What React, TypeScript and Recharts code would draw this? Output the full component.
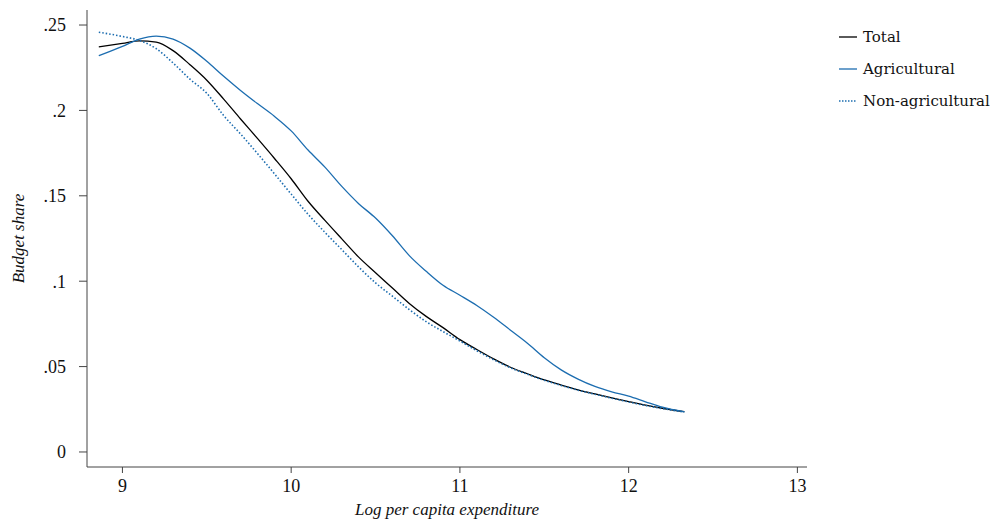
import React from 'react';
import { LineChart, Line, XAxis, YAxis } from 'recharts';

// log per capita expenditure grid
const logExp = [
  8.86, 9.0, 9.1, 9.2, 9.3, 9.4, 9.5, 9.6, 9.7, 9.8, 9.9, 10.0, 10.1, 10.2, 10.3, 10.4, 10.5, 10.6,
  10.7, 10.8, 10.9, 11.0, 11.1, 11.2, 11.3, 11.4, 11.5, 11.6, 11.7, 11.8, 11.9, 12.0, 12.1, 12.2, 12.33,
];

const total = [
  0.2372, 0.2392, 0.2407, 0.24, 0.235, 0.2268, 0.2177, 0.2066, 0.195, 0.1836, 0.172, 0.16, 0.1468,
  0.1356, 0.1248, 0.1141, 0.105, 0.096, 0.087, 0.0794, 0.0728, 0.0658, 0.06, 0.0545, 0.0496, 0.0458,
  0.0422, 0.0392, 0.0364, 0.034, 0.0317, 0.0295, 0.0274, 0.0256, 0.0236,
];

const agricultural = [
  0.232, 0.2375, 0.2417, 0.2435, 0.2418, 0.2365, 0.2288, 0.22, 0.2117, 0.204, 0.1966, 0.188, 0.1768,
  0.1668, 0.1555, 0.1454, 0.137, 0.1266, 0.115, 0.1058, 0.0976, 0.0918, 0.0858, 0.0789, 0.0713,
  0.0637, 0.0552, 0.0481, 0.0427, 0.0384, 0.0352, 0.0327, 0.0294, 0.0262, 0.0235,
];

const nonAgricultural = [
  0.2458, 0.2433, 0.241, 0.2362, 0.2278, 0.2183, 0.21, 0.197, 0.1862, 0.1748, 0.163, 0.151, 0.1392,
  0.1286, 0.1185, 0.1083, 0.099, 0.0912, 0.0834, 0.0763, 0.0705, 0.065, 0.0593, 0.054, 0.0493,
  0.0455, 0.042, 0.039, 0.0362, 0.0338, 0.0315, 0.0293, 0.0272, 0.0254, 0.0234,
];

const xTicks = [9, 10, 11, 12, 13];
const yTicks = [0, 0.05, 0.1, 0.15, 0.2, 0.25];

const BLUE = '#1c6db0';
const AXIS = '#444';
const SERIF = '"DejaVu Serif", "Liberation Serif", serif';
const NARROW = '"Liberation Serif", "DejaVu Serif", serif';

const data = logExp.map((x, i) => ({
  x,
  total: total[i],
  agri: agricultural[i],
  nonagri: nonAgricultural[i],
}));

const fmtY = (v: number) => (v === 0 ? '0' : String(v).replace(/^0/, ''));

const legendItems = [
  { label: 'Total', color: '#000', dash: undefined },
  { label: 'Agricultural', color: BLUE, dash: undefined },
  { label: 'Non-agricultural', color: BLUE, dash: '1.5 1.5' },
];

const tickStyle = { fill: '#111', fontSize: 18, fontFamily: NARROW };
const titleStyle = { fontFamily: NARROW, fontStyle: 'italic', fontSize: 17, fill: '#111' };

export default function App() {
  return (
    <div style={{ position: 'relative', width: 1000, height: 512, background: '#fff', fontFamily: NARROW }}>
      <LineChart width={1000} height={512} data={data} margin={{ top: 2, right: 201, bottom: 0, left: 0 }}>
        <XAxis
          dataKey="x"
          type="number"
          domain={[8.79, 13.057]}
          ticks={xTicks}
          allowDataOverflow
          height={53}
          stroke={AXIS}
          tickSize={6}
          tickMargin={6}
          tick={{ ...tickStyle, style: { fontFamily: NARROW } }}
          label={{ value: 'Log per capita expenditure', position: 'insideBottom', offset: 5, style: titleStyle }}
        />
        <YAxis
          type="number"
          domain={[-0.0088, 0.2588]}
          ticks={yTicks}
          allowDataOverflow
          width={79}
          stroke={AXIS}
          tickSize={8}
          tickMargin={13}
          tickFormatter={fmtY}
          tick={{ ...tickStyle, style: { fontFamily: NARROW } }}
          label={{
            value: 'Budget share',
            angle: -90,
            position: 'insideLeft',
            offset: 10,
            style: { ...titleStyle, textAnchor: 'middle' },
          }}
        />
        <Line dataKey="total" stroke="#000" strokeWidth={1.3} dot={false} type="monotone" isAnimationActive={false} />
        <Line dataKey="agri" stroke={BLUE} strokeWidth={1.3} dot={false} type="monotone" isAnimationActive={false} />
        <Line
          dataKey="nonagri"
          stroke={BLUE}
          strokeWidth={1.6}
          strokeDasharray="1.5 2"
          dot={false}
          type="monotone"
          isAnimationActive={false}
        />
      </LineChart>
      <div style={{ position: 'absolute', left: 830, top: 13, fontFamily: SERIF, fontSize: 15, color: '#111' }}>
        {legendItems.map((it) => (
          <div key={it.label} style={{ display: 'flex', alignItems: 'center', height: 32 }}>
            <svg width={20} height={10} style={{ marginRight: 5 }}>
              <line x1={1} y1={5} x2={19} y2={5} stroke={it.color} strokeWidth={1.3} strokeDasharray={it.dash} />
            </svg>
            <span>{it.label}</span>
          </div>
        ))}
      </div>
    </div>
  );
}
